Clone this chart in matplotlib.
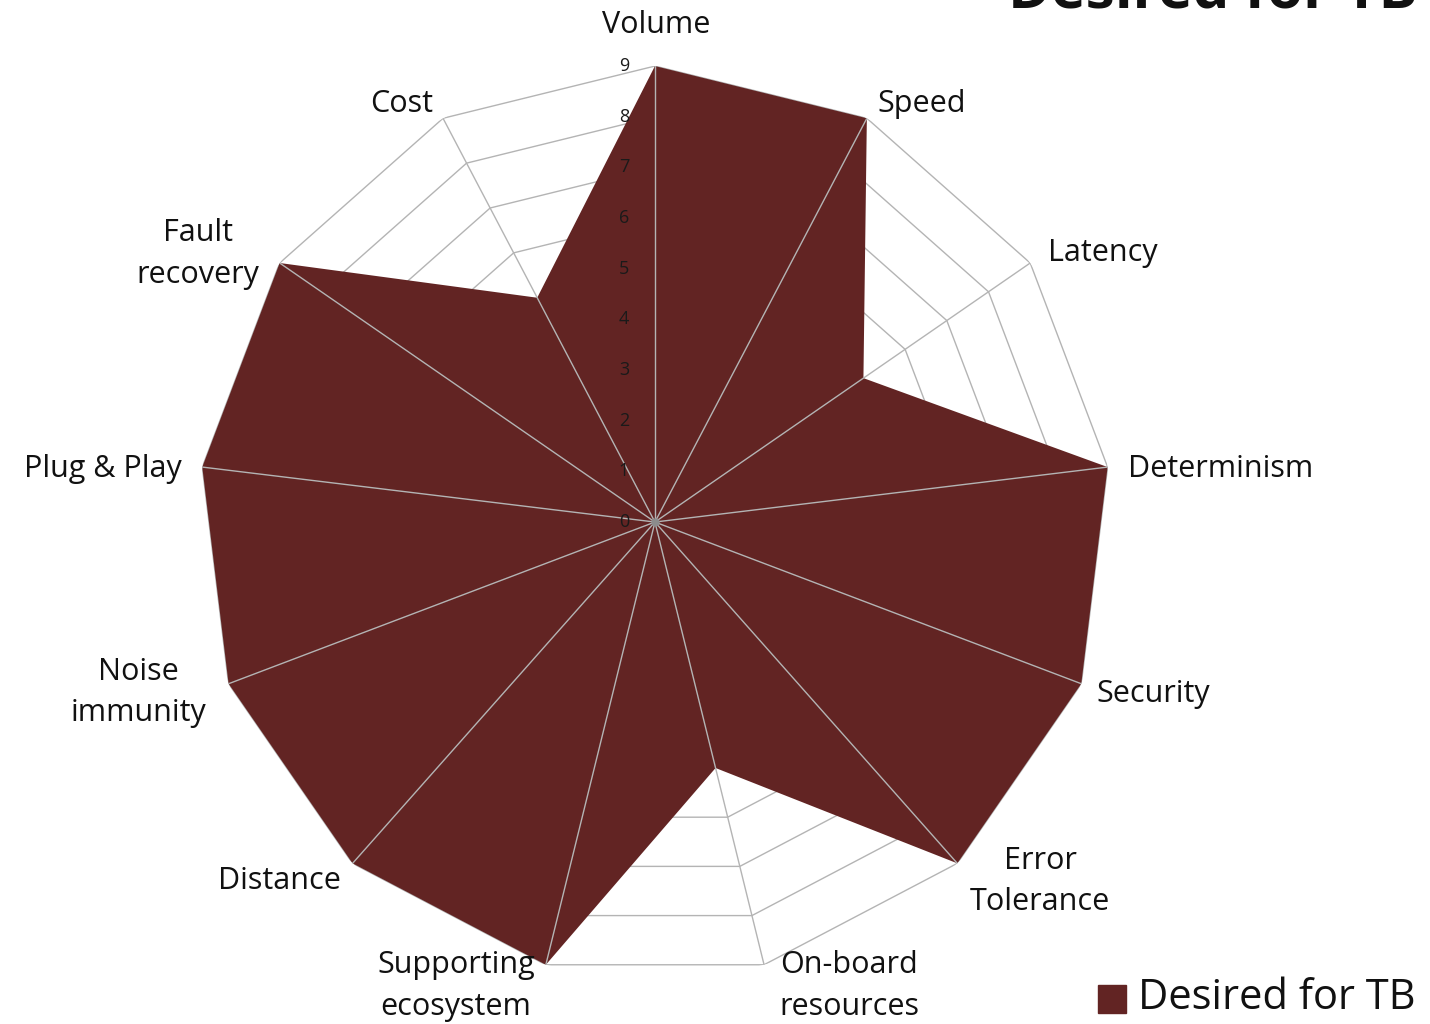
import numpy as np
import matplotlib.pyplot as plt

# Chart data
categories = ["Volume", "Speed", "Latency", "Determinism", "Security",
              "Error\nTolerance", "On-board\nresources", "Supporting\necosystem",
              "Distance", "Noise\nimmunity", "Plug & Play", "Fault\nrecovery", "Cost"]
values = [9, 9, 5, 9, 9, 9, 5, 9, 9, 9, 9, 9, 5]
ticks = [0, 1, 2, 3, 4, 5, 6, 7, 8, 9]
series_name = "Desired for TB"

# label placement relative to the outer ring point (pixels, y down), alignment
label_pos = [(1, -41, 'center'), (11, -14, 'left'), (18, -10, 'left'),
             (20, 2, 'left'), (15, 10, 'left'), (83, 18, 'center'),
             (85, 21, 'center'), (-90, 21, 'center'), (-12, 18, 'right'),
             (-90, 9, 'center'), (-21, 2, 'right'), (-82, -9, 'center'),
             (-10, -14, 'right')]

fill_color = "#622423"
grid_color = "#B4B4B4"

plt.rcParams['font.family'] = ['Open Sans', 'DejaVu Sans']

n = len(categories)
angles = np.arange(n) * 2 * np.pi / n
closed_ang = np.append(angles, angles[0])

fig = plt.figure(figsize=(14.3, 10.24), dpi=100)
ax = fig.add_axes([0.1391, 0.0449, 0.6378, 0.8906], projection='polar')
ax.set_theta_zero_location('N')
ax.set_theta_direction(-1)
ax.set_ylim(0, 9)
ax.grid(False)
ax.spines['polar'].set_visible(False)
ax.set_xticks([])
ax.set_yticks([])
ax.patch.set_visible(False)

# polygon rings (behind the fill)
for t in ticks[1:]:
    ax.plot(closed_ang, [t] * (n + 1), color=grid_color, lw=1.0, zorder=1)

# series fill
vals = np.append(values, values[0])
ax.fill(closed_ang, vals, color=fill_color, zorder=2, lw=0)

# spokes on top
for a in angles:
    ax.plot([a, a], [0, ticks[-1]], color=grid_color, lw=1.0, zorder=3)
ax.plot([0], [0], 'o', color='#8C8C8C', ms=5, zorder=4)

# tick labels along Volume axis
for t in ticks:
    ax.annotate(str(t), xy=(0, t), xytext=(-31, 0), textcoords='offset pixels',
                ha='center', va='center', fontsize=13, color='#1A1A1A', zorder=5)

# category labels
for a, lab, (dx, dy, ha) in zip(angles, categories, label_pos):
    ax.annotate(lab, xy=(a, ticks[-1]), xytext=(dx, -dy), textcoords='offset pixels',
                ha=ha, va='center', fontsize=22, color='#111111', linespacing=1.5,
                multialignment='center', annotation_clip=False)

# legend
fig.patches.append(plt.Rectangle((1098 / 1430, 1 - 1013 / 1024), 28 / 1430, 28 / 1024,
                                 transform=fig.transFigure, color=fill_color))
fig.text(1138 / 1430, 1 - 998 / 1024, series_name, fontsize=30, va='center', ha='left',
         color='#111111')

# clipped title at top
fig.text(1008 / 1430, 1 - 7 / 1024, series_name, fontsize=42, fontweight='bold',
         va='baseline', ha='left', color='#111111')

fig.savefig("out.png", dpi=100)
